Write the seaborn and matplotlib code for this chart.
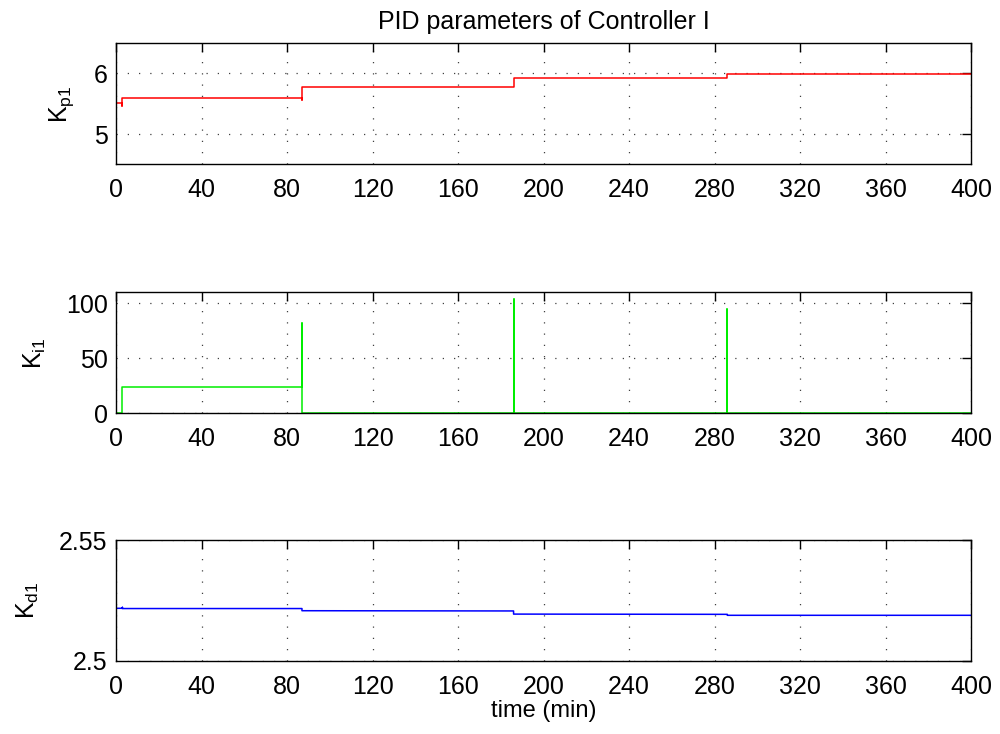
import numpy as np
import pandas as pd
import matplotlib
matplotlib.use("Agg")
import matplotlib.pyplot as plt
import seaborn as sns

# curves (time in min)
t_kp = [0, 3, 3, 3, 87, 87, 87, 186, 186, 286, 286, 400]
kp = [5.52, 5.52, 5.47, 5.60, 5.60, 5.57, 5.77, 5.77, 5.93, 5.93, 5.99, 5.99]

t_ki = [0, 3, 3, 87, 87, 87, 186, 186, 186, 286, 286, 286, 400]
ki = [0, 0, 24, 24, 82, 0, 0, 104, 0, 0, 95, 0, 0]

t_kd = [0, 0, 3, 3, 3, 87, 87, 186, 186, 286, 286, 400]
kd = [2.5, 2.5217, 2.5217, 2.5221, 2.5216, 2.5216, 2.5207, 2.5206, 2.5193, 2.5192, 2.5188, 2.5188]

xticks = list(range(0, 401, 40))

sns.set_style("white")
plt.rcParams['font.family'] = ['Liberation Sans', 'DejaVu Sans']
plt.rcParams['mathtext.default'] = 'regular'
plt.rcParams['text.color'] = 'black'
plt.rcParams['axes.labelcolor'] = 'black'

fig = plt.figure(figsize=(10, 7.34), dpi=100)

panels = [
    (t_kp, kp, 'red', r'$K_{p1}$', (4.5, 6.5), [5, 6], ['5', '6'], [0.116, 0.7762, 0.855, 0.1649]),
    (t_ki, ki, '#00ee00', r'$K_{i1}$', (0, 110), [0, 50, 100], ['0', '50', '100'], [0.116, 0.4369, 0.855, 0.1649]),
    (t_kd, kd, 'blue', r'$K_{d1}$', (2.5, 2.55), [2.5, 2.55], ['2.5', '2.55'], [0.116, 0.0999, 0.855, 0.1644]),
]

axes = []
for t, v, col, lab, ylim, yt, ytl, pos in panels:
    ax = fig.add_axes(pos)
    df = pd.DataFrame({'t': t, 'v': v})
    sns.lineplot(data=df, x='t', y='v', sort=False, estimator=None,
                 color=col, linewidth=1.1, ax=ax)
    ax.set_xlim(0, 400)
    ax.set_ylim(*ylim)
    ax.set_xticks(xticks)
    ax.set_yticks(yt)
    ax.set_yticklabels(ytl)
    ax.grid(True, color='0.25', linestyle=(0, (1, 8)), linewidth=0.9)
    ax.tick_params(direction='in', length=6.5, width=1, labelsize=18,
                   top=True, right=True, colors='black')
    ax.tick_params(axis='x', pad=10)
    ax.tick_params(axis='y', pad=6)
    for s in ax.spines.values():
        s.set_color('black')
        s.set_linewidth(1)
        s.set_visible(True)
    ax.set_xlabel('')
    ax.set_ylabel(lab, fontsize=18, labelpad=13, color='black')
    axes.append(ax)

axes[0].set_title('PID parameters of Controller I', fontsize=18, pad=10, color='black')
axes[2].set_xlabel('time (min)', fontsize=17, labelpad=1, color='black')

fig.savefig('out.png', dpi=100)
